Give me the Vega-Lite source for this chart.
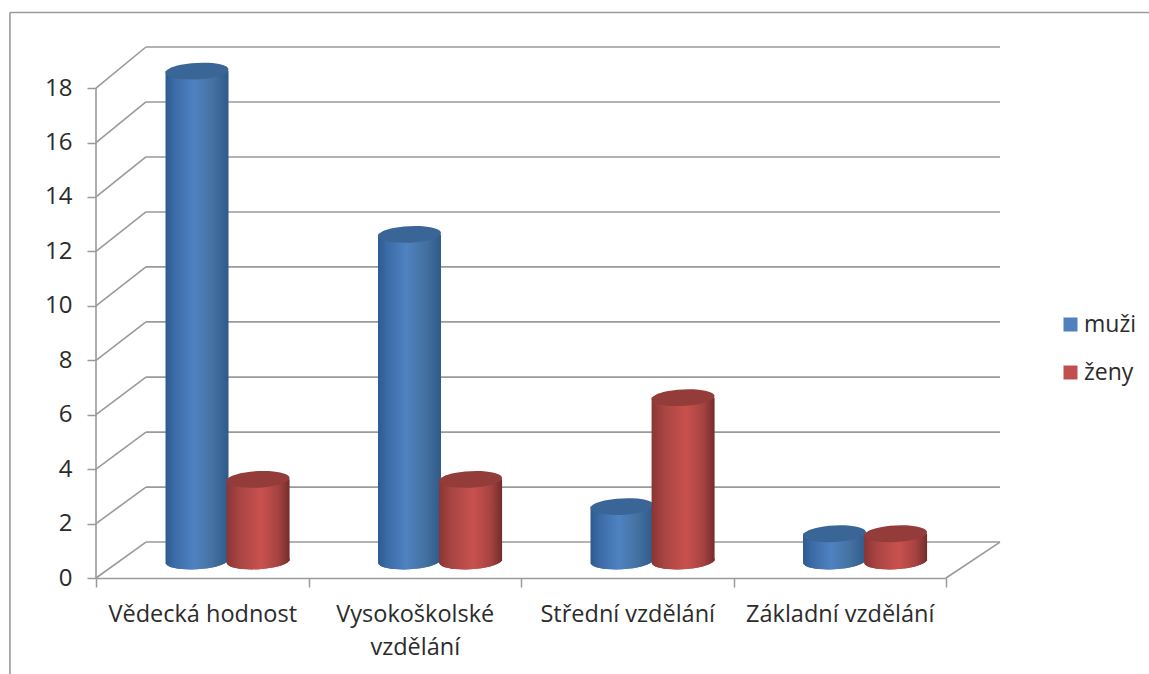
{
"$schema":"https://vega.github.io/schema/vega-lite/v6.json",
"width":904,"height":531,
"autosize":{"type":"none"},
"padding":{"left":96,"top":47,"right":149,"bottom":96},
"background":"white",
"config":{"view":{"stroke":null},"font":"Open Sans"},
"datasets":{
"bars":[
{"cat":"Vědecká hodnost","series":"muži","value":18},
{"cat":"Vědecká hodnost","series":"ženy","value":3},
{"cat":"Vysokoškolské vzdělání","series":"muži","value":12},
{"cat":"Vysokoškolské vzdělání","series":"ženy","value":3},
{"cat":"Střední vzdělání","series":"muži","value":2},
{"cat":"Střední vzdělání","series":"ženy","value":6},
{"cat":"Základní vzdělání","series":"muži","value":1},
{"cat":"Základní vzdělání","series":"ženy","value":1}
],
"wall":[
{"a":0,"b":0,"a2":0,"b2":18},
{"a":0,"b":0,"a2":0.235,"b2":1.32},{"a":0.235,"b":1.32,"a2":4.254,"b2":1.32},
{"a":4,"b":0,"a2":4.254,"b2":1.32},
{"a":0,"b":2,"a2":0.235,"b2":3.34},{"a":0.235,"b":3.34,"a2":4.254,"b2":3.34},
{"a":0,"b":4,"a2":0.235,"b2":5.36},{"a":0.235,"b":5.36,"a2":4.254,"b2":5.36},
{"a":0,"b":6,"a2":0.235,"b2":7.38},{"a":0.235,"b":7.38,"a2":4.254,"b2":7.38},
{"a":0,"b":8,"a2":0.235,"b2":9.41},{"a":0.235,"b":9.41,"a2":4.254,"b2":9.41},
{"a":0,"b":10,"a2":0.235,"b2":11.43},{"a":0.235,"b":11.43,"a2":4.254,"b2":11.43},
{"a":0,"b":12,"a2":0.235,"b2":13.45},{"a":0.235,"b":13.45,"a2":4.254,"b2":13.45},
{"a":0,"b":14,"a2":0.235,"b2":15.47},{"a":0.235,"b":15.47,"a2":4.254,"b2":15.47},
{"a":0,"b":16,"a2":0.235,"b2":17.49},{"a":0.235,"b":17.49,"a2":4.254,"b2":17.49},
{"a":0,"b":18,"a2":0.235,"b2":19.51},{"a":0.235,"b":19.51,"a2":4.254,"b2":19.51},
{"a":-0.405,"b":20.78,"a2":4.955,"b2":20.78},
{"a":-0.405,"b":20.78,"a2":-0.405,"b2":-3.53}
]},
"resolve":{"scale":{"x":"independent"},"axis":{"x":"independent"}},
"layer":[
{"data":{"name":"wall"},
 "mark":{"type":"rule","color":"#9a9a9a","strokeWidth":1.6},
 "encoding":{
  "x":{"field":"a","type":"quantitative","scale":{"domain":[0,4.254],"nice":false,"zero":false},"axis":null},
  "x2":{"field":"a2"},
  "y":{"field":"b","type":"quantitative","scale":{"domain":[0,19.51],"nice":false},
   "axis":{"title":null,"values":[0,2,4,6,8,10,12,14,16,18],"domain":false,"grid":false,"tickSize":9,"tickColor":"#9a9a9a","tickWidth":1.5,"labelFontSize":24,"labelColor":"#2b2b2b","labelPadding":15,"labelFont":"Open Sans"}},
  "y2":{"field":"b2"}}},
{"data":{"name":"bars"},
 "layer":[
 {"mark":{"type":"point","filled":true,"opacity":1,"size":3969,"yOffset":-17,"shape":"M-0.9986,0.052A1,0.26,-3,1,1,0.9986,-0.052A1,0.26,-3,1,1,-0.9986,0.052Z"},
  "encoding":{"y":{"datum":0,"type":"quantitative"},
   "color":{"field":"series","type":"nominal","scale":{"domain":["muži","ženy"],"range":["#4f81bd","#c0504d"]},
    "legend":{"title":null,"orient":"none","legendX":963,"legendY":266,"symbolType":"square","symbolSize":196,"symbolStrokeWidth":0,"labelFontSize":23,"labelColor":"#2b2b2b","labelFont":"Open Sans","rowPadding":24,"labelOffset":2}}}},
 {"transform":[{"filter":"datum.series=='muži'"}],
  "mark":{"type":"point","filled":true,"opacity":1,"size":3969,"yOffset":-17,"fill":{"gradient":"linear","x1":0,"y1":0,"x2":1,"y2":0,"stops":[{"offset":0,"color":"#2d5a8e"},{"offset":0.14,"color":"#3b6ba6"},{"offset":0.45,"color":"#4f82c2"},{"offset":0.75,"color":"#44719f"},{"offset":1,"color":"#2f5a8a"}]},"shape":"M-0.9986,0.052A1,0.26,-3,1,1,0.9986,-0.052A1,0.26,-3,1,1,-0.9986,0.052Z"},
  "encoding":{"y":{"datum":0,"type":"quantitative"}}},
 {"transform":[{"filter":"datum.series=='muži'"}],
  "mark":{"type":"bar","orient":"vertical","width":63,"yOffset":-17,"y2Offset":-17,"fill":{"gradient":"linear","x1":0,"y1":0,"x2":1,"y2":0,"stops":[{"offset":0,"color":"#2d5a8e"},{"offset":0.14,"color":"#3b6ba6"},{"offset":0.45,"color":"#4f82c2"},{"offset":0.75,"color":"#44719f"},{"offset":1,"color":"#2f5a8a"}]}},
  "encoding":{"y":{"field":"value","type":"quantitative"},"y2":{"datum":0}}},
 {"transform":[{"filter":"datum.series=='muži'"}],
  "mark":{"type":"point","filled":true,"opacity":1,"size":3969,"yOffset":-17,"color":"#3a6597","shape":"M-0.9986,0.052A1,0.26,-3,1,1,0.9986,-0.052A1,0.26,-3,1,1,-0.9986,0.052Z"},
  "encoding":{"y":{"field":"value","type":"quantitative"}}},
 {"transform":[{"filter":"datum.series=='ženy'"}],
  "mark":{"type":"point","filled":true,"opacity":1,"size":3969,"yOffset":-17,"fill":{"gradient":"linear","x1":0,"y1":0,"x2":1,"y2":0,"stops":[{"offset":0,"color":"#8a3533"},{"offset":0.2,"color":"#a84543"},{"offset":0.55,"color":"#c9514e"},{"offset":0.82,"color":"#a54341"},{"offset":1,"color":"#732d2b"}]},"shape":"M-0.9986,0.052A1,0.26,-3,1,1,0.9986,-0.052A1,0.26,-3,1,1,-0.9986,0.052Z"},
  "encoding":{"y":{"datum":0,"type":"quantitative"}}},
 {"transform":[{"filter":"datum.series=='ženy'"}],
  "mark":{"type":"bar","orient":"vertical","width":63,"yOffset":-17,"y2Offset":-17,"fill":{"gradient":"linear","x1":0,"y1":0,"x2":1,"y2":0,"stops":[{"offset":0,"color":"#8a3533"},{"offset":0.2,"color":"#a84543"},{"offset":0.55,"color":"#c9514e"},{"offset":0.82,"color":"#a54341"},{"offset":1,"color":"#732d2b"}]}},
  "encoding":{"y":{"field":"value","type":"quantitative"},"y2":{"datum":0}}},
 {"transform":[{"filter":"datum.series=='ženy'"}],
  "mark":{"type":"point","filled":true,"opacity":1,"size":3969,"yOffset":-17,"color":"#933c3a","shape":"M-0.9986,0.052A1,0.26,-3,1,1,0.9986,-0.052A1,0.26,-3,1,1,-0.9986,0.052Z"},
  "encoding":{"y":{"field":"value","type":"quantitative"}}}
 ],
 "encoding":{
  "x":{"field":"cat","type":"nominal","sort":null,"scale":{"range":[0,850],"paddingInner":0,"paddingOuter":0},
   "axis":{"title":null,"labelAngle":0,"tickBand":"extent","domainColor":"#9a9a9a","domainWidth":1.6,"tickColor":"#9a9a9a","tickWidth":1.5,"tickSize":9,"labelFontSize":23.5,"labelColor":"#2b2b2b","labelPadding":15,"labelLimit":400,"labelLineHeight":33,"labelFont":"Open Sans","labelExpr":"datum.label=='Vysokoškolské vzdělání' ? ['Vysokoškolské','vzdělání'] : datum.label"}},
  "xOffset":{"field":"series","type":"nominal","scale":{"paddingInner":0,"paddingOuter":0.74,"align":0.78}}
 }}
]}
